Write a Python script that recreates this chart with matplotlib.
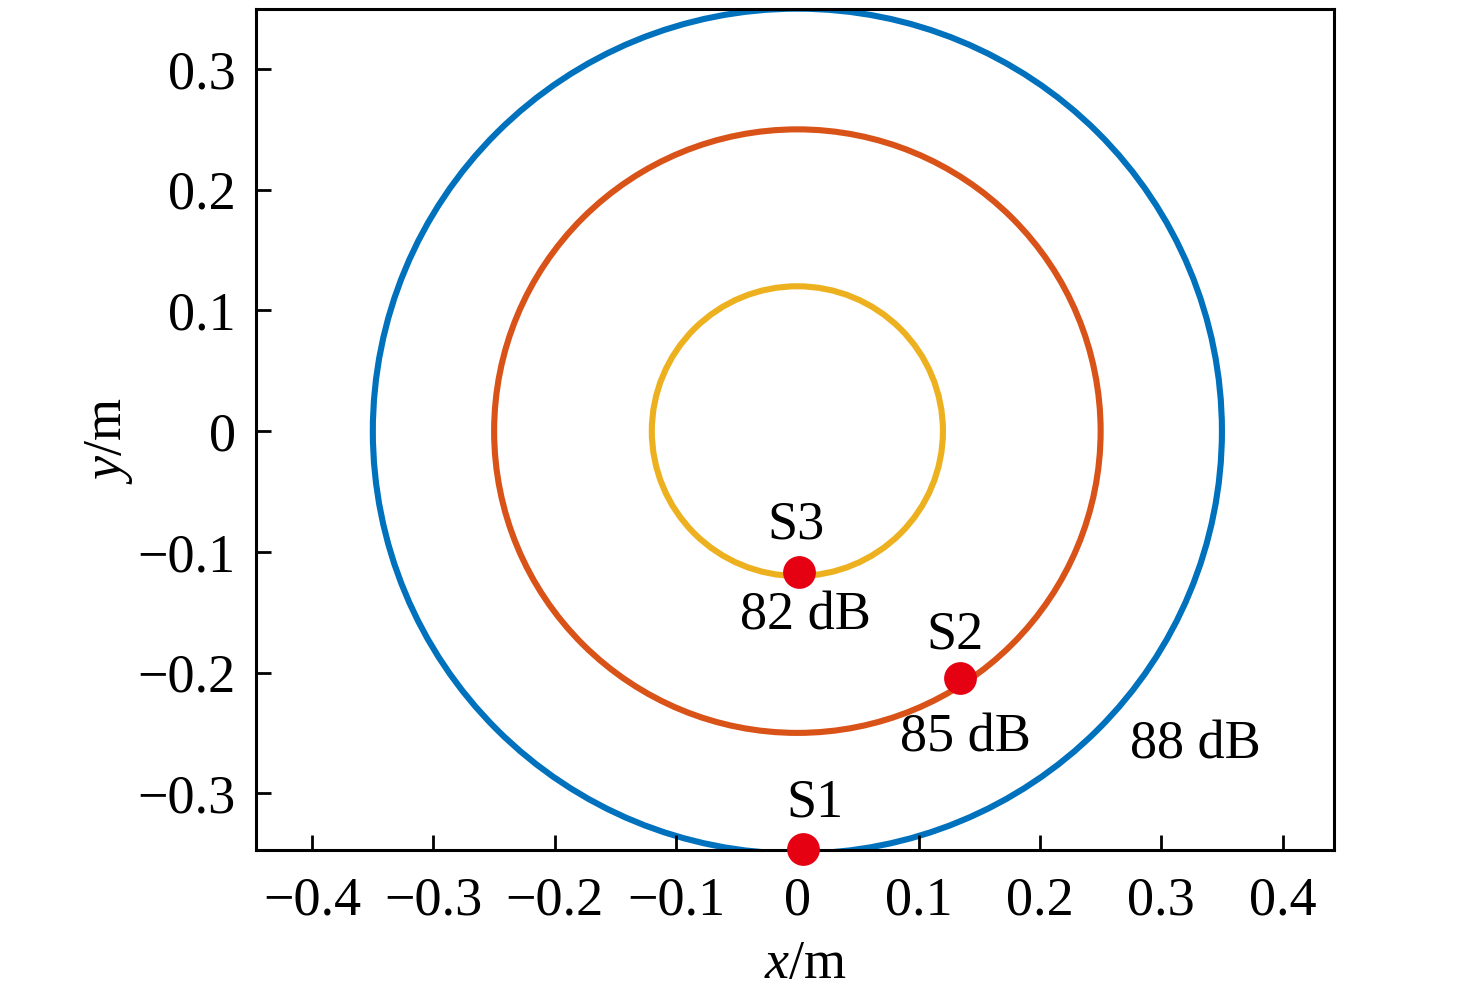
import matplotlib
matplotlib.use("Agg")
import matplotlib.pyplot as plt
from matplotlib.patches import Circle

# contour radii (m) and levels
radii = [0.35, 0.25, 0.12]
levels = ["88 dB", "85 dB", "82 dB"]
circle_colors = ["#0072BD", "#D95319", "#EDB120"]

# source points
src_names = ["S1", "S2", "S3"]
src_x = [0.0046, 0.1343, 0.001]
src_y = [-0.3463, -0.2049, -0.1166]

# label positions
name_x = [0.0145, 0.1299, -0.001]
name_y = [-0.3082, -0.169, -0.0779]
level_x = [0.3278, 0.1382, 0.0063]
level_y = [-0.2601, -0.2543, -0.1533]

x_ticks = [-0.4, -0.3, -0.2, -0.1, 0, 0.1, 0.2, 0.3, 0.4]
x_labels = ["\u22120.4", "\u22120.3", "\u22120.2", "\u22120.1", "0",
            "0.1", "0.2", "0.3", "0.4"]
y_ticks = [-0.3, -0.2, -0.1, 0, 0.1, 0.2, 0.3]
y_labels = ["\u22120.3", "\u22120.2", "\u22120.1", "0", "0.1", "0.2", "0.3"]

plt.rcParams["font.family"] = ["Liberation Serif", "DejaVu Serif"]
plt.rcParams["mathtext.fontset"] = "custom"
plt.rcParams["mathtext.rm"] = "Liberation Serif"
plt.rcParams["mathtext.it"] = "Liberation Serif:italic"

fs = 19.5

fig = plt.figure(figsize=(7.38, 4.955), dpi=200)
ax = fig.add_axes([0.1737, 0.1423, 0.9038 - 0.1737, 0.9909 - 0.1423])

for r, c in zip(radii, circle_colors):
    ax.add_patch(Circle((0, 0), r, fill=False, edgecolor=c, lw=2.2))

ax.plot(src_x, src_y, "o", color="#E50012", markersize=11.8,
        markeredgewidth=0, clip_on=False, zorder=5)

for n, x, y in zip(src_names, name_x, name_y):
    ax.text(x, y, n, fontsize=fs, ha="center", va="center")
for t, x, y in zip(levels, level_x, level_y):
    ax.text(x, y, t, fontsize=fs, ha="center", va="center")

ax.set_xlim(-0.446, 0.4424)
ax.set_ylim(-0.347, 0.3497)
ax.set_xticks(x_ticks)
ax.set_xticklabels(x_labels)
ax.set_yticks(y_ticks)
ax.set_yticklabels(y_labels)
ax.tick_params(direction="in", length=5.4, width=1.0, labelsize=fs)
ax.tick_params(axis="x", pad=9.5)
ax.tick_params(axis="y", pad=7.5)
for s in ax.spines.values():
    s.set_linewidth(1.1)

ax.set_xlabel(r"$\mathit{x}$/m", fontsize=fs, va="center")
ax.set_ylabel(r"$\mathit{y}$/m", fontsize=fs, va="center")
# label centres, in axes fraction
ax.xaxis.set_label_coords(0.5093, -0.136)
ax.yaxis.set_label_coords(-0.137, 0.487)

fig.savefig("out.png", dpi=200)
